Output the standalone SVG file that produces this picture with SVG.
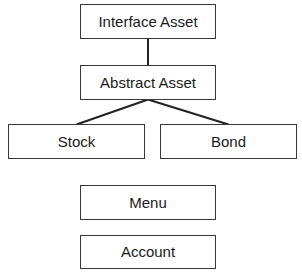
<svg xmlns="http://www.w3.org/2000/svg" width="302" height="278" viewBox="0 0 302 278">
<style>
.box{fill:#fff;stroke:#3a3a3a;stroke-width:1}
.lbl{font-family:"Liberation Sans",Arial,sans-serif;font-size:15px;fill:#1a1a1a;text-anchor:middle}
.conn{stroke:#222;stroke-width:2;fill:none}
</style>
<rect width="302" height="278" fill="#fff"/>
<g id="connectors">
<line class="conn" x1="148" y1="38.5" x2="148" y2="65.5"/>
<line class="conn" x1="148" y1="99.5" x2="76.5" y2="124.5"/>
<line class="conn" x1="148" y1="99.5" x2="228.5" y2="124.5"/>
</g>
<g id="interface-asset"><rect class="box" x="80.5" y="4.5" width="135" height="34"/><text class="lbl" x="148" y="26.8">Interface Asset</text></g>
<g id="abstract-asset"><rect class="box" x="80.5" y="65.5" width="135" height="34"/><text class="lbl" x="148" y="87.8">Abstract Asset</text></g>
<g id="stock"><rect class="box" x="8.5" y="124.5" width="136" height="34"/><text class="lbl" x="76.5" y="146.8">Stock</text></g>
<g id="bond"><rect class="box" x="160.5" y="124.5" width="136" height="34"/><text class="lbl" x="228.5" y="146.8">Bond</text></g>
<g id="menu"><rect class="box" x="80.5" y="185.5" width="135" height="34"/><text class="lbl" x="148" y="207.8">Menu</text></g>
<g id="account"><rect class="box" x="80.5" y="235.5" width="135" height="33"/><text class="lbl" x="148" y="257.3">Account</text></g>
</svg>
